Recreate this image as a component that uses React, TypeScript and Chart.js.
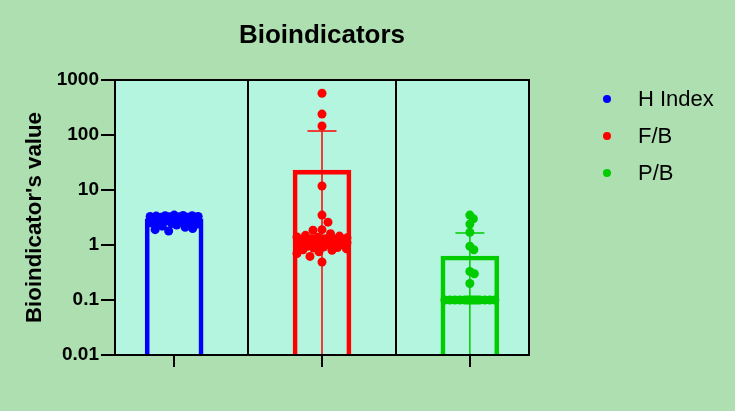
import React, { useEffect, useRef } from 'react';
import { Chart, registerables } from 'chart.js';

Chart.register(...registerables);

// ---- data ----
const categories = ['H Index', 'F/B', 'P/B'];
const seriesColors = ['#0000FF', '#FF0000', '#00CC00'];
const means = [3.0, 23, 0.63];
const sds = [0.38, 95, 1.02];
const yTickValues = [0.01, 0.1, 1, 10, 100, 1000];

const hIndexValues = [
  3.5, 3.45, 3.4, 3.4, 3.35, 3.3, 3.3, 3.25, 3.25, 3.2, 3.2, 3.2, 3.15, 3.15, 3.1,
  3.1, 3.1, 3.05, 3.05, 3.0, 3.0, 3.0, 2.95, 2.95, 2.9, 2.9, 2.85, 2.85, 2.8, 2.8,
  2.75, 2.7, 2.7, 2.65, 2.6, 2.55, 2.5, 2.45, 2.4, 2.3, 2.2, 2.1, 2.0, 1.9, 1.8,
];
const fbValues = [
  573, 240, 146, 11.8, 3.5, 2.6, 1.9, 1.85, 1.6, 1.5, 1.45, 1.4, 1.38, 1.35, 1.3,
  1.3, 1.28, 1.25, 1.22, 1.2, 1.2, 1.18, 1.15, 1.15, 1.12, 1.1, 1.1, 1.08, 1.05, 1.05,
  1.02, 1.0, 1.0, 0.98, 0.95, 0.92, 0.9, 0.88, 0.85, 0.82, 0.8, 0.75, 0.7, 0.62, 0.49,
];
const pbValues = [
  3.5, 3.0, 2.4, 1.7, 0.95, 0.82, 0.33, 0.3, 0.2,
  0.1, 0.1, 0.1, 0.1, 0.1, 0.1, 0.1, 0.1, 0.1, 0.1, 0.1, 0.1, 0.1, 0.1,
];
const pointSeries = [hIndexValues, fbValues, pbValues];

const chartTitle = 'Bioindicators';
const yTitle = "Bioindicator's value";

// ---- styles ----
const PAGE_BG = '#ADDFB0';
const PLOT_BG = '#B3F5DE';
const FONT = '"Liberation Sans", Arial, Helvetica, sans-serif';
const POINT_R = 4.5;

function swarmOffsets(py: number[], diameter: number, maxHalf: number): number[] {
  const order = py.map((_, i) => i).sort((a, b) => py[a] - py[b]);
  const placed: { x: number; y: number }[] = [];
  const out = new Array(py.length).fill(0);
  const cands: number[] = [0];
  for (let s = 0.5; s <= maxHalf + 1e-9; s += 0.5) cands.push(s, -s);
  for (const i of order) {
    const y = py[i];
    let best = 0;
    let bestScore = -1;
    for (const c of cands) {
      let minD = Infinity;
      for (const p of placed) {
        const d = Math.hypot(c - p.x, y - p.y);
        if (d < minD) minD = d;
      }
      if (minD >= diameter) {
        best = c;
        break;
      }
      if (minD > bestScore) {
        bestScore = minD;
        best = c;
      }
    }
    placed.push({ x: best, y });
    out[i] = best;
  }
  return out;
}

const decorPlugin = {
  id: 'decor',
  beforeDraw(chart: any) {
    const { ctx, chartArea: a, width, height } = chart;
    ctx.save();
    ctx.fillStyle = PAGE_BG;
    ctx.fillRect(0, 0, width, height);
    ctx.fillStyle = PLOT_BG;
    ctx.fillRect(a.left, a.top, a.right - a.left, a.bottom - a.top);
    ctx.restore();
  },
  afterDatasetDraw(chart: any, args: any) {
    if (args.index !== 0) return;
    const { ctx, chartArea: a, scales } = chart;
    const x = scales.x;
    const y = scales.y;
    ctx.save();
    ctx.lineWidth = 1.5;
    means.forEach((m, i) => {
      const px = x.getPixelForValue(i);
      const top = y.getPixelForValue(m + sds[i]);
      const low = m - sds[i];
      const bottom = low > 0.01 ? y.getPixelForValue(low) : a.bottom;
      ctx.strokeStyle = seriesColors[i];
      ctx.beginPath();
      ctx.moveTo(px, top);
      ctx.lineTo(px, bottom);
      ctx.moveTo(px - 14.5, top);
      ctx.lineTo(px + 14.5, top);
      if (low > 0.01) {
        ctx.moveTo(px - 14.5, bottom);
        ctx.lineTo(px + 14.5, bottom);
      }
      ctx.stroke();
    });
    ctx.restore();
  },
  afterDraw(chart: any) {
    const { ctx, chartArea: a, scales } = chart;
    const x = scales.x;
    ctx.save();
    // frame and dividers
    ctx.strokeStyle = '#000';
    ctx.lineWidth = 2;
    ctx.strokeRect(a.left, a.top, a.right - a.left, a.bottom - a.top);
    [0.5, 1.5].forEach((v) => {
      const px = Math.round(x.getPixelForValue(v));
      ctx.beginPath();
      ctx.moveTo(px, a.top);
      ctx.lineTo(px, a.bottom);
      ctx.stroke();
    });
    // title
    ctx.fillStyle = '#000';
    ctx.font = `bold 26px ${FONT}`;
    ctx.textAlign = 'center';
    ctx.textBaseline = 'alphabetic';
    ctx.fillText(chartTitle, (a.left + a.right) / 2, 43);
    // legend
    ctx.font = `22px ${FONT}`;
    ctx.textAlign = 'left';
    ctx.textBaseline = 'middle';
    chart.data.datasets.slice(1).forEach((ds: any, i: number) => {
      const cy = a.top + 19 + i * 37;
      const cx = a.right + 78;
      ctx.fillStyle = ds.backgroundColor;
      ctx.beginPath();
      ctx.arc(cx, cy, 4, 0, Math.PI * 2);
      ctx.fill();
      ctx.fillStyle = '#000';
      ctx.fillText(ds.label, a.right + 109, cy + 0.5);
    });
    ctx.restore();
  },
};

export default function App() {
  const ref = useRef<HTMLCanvasElement | null>(null);

  useEffect(() => {
    document.body.style.margin = '0';
    const canvas = ref.current;
    if (!canvas) return;

    const datasets: any[] = [
      {
        type: 'bar',
        label: 'Mean',
        data: means.map((m, i) => ({ x: i, y: m })),
        borderColor: seriesColors,
        backgroundColor: 'rgba(0,0,0,0)',
        borderWidth: 4,
        borderSkipped: 'bottom',
        barThickness: 58,
        order: 10,
      },
      ...pointSeries.map((vals, i) => ({
        type: 'scatter',
        label: categories[i],
        data: vals.map((v) => ({ x: i, y: v })),
        backgroundColor: seriesColors[i],
        borderColor: seriesColors[i],
        borderWidth: 0,
        pointRadius: POINT_R,
        pointHoverRadius: POINT_R,
        order: 3 - i,
      })),
    ];

    const chart = new Chart(canvas, {
      type: 'bar',
      data: { datasets },
      plugins: [decorPlugin],
      options: {
        animation: false,
        responsive: false,
        devicePixelRatio: 1,
        events: [],
        layout: { padding: { top: 80, right: 206, bottom: 0, left: 0 } },
        plugins: {
          legend: { display: false },
          title: { display: false },
          tooltip: { enabled: false },
        },
        scales: {
          x: {
            type: 'linear',
            min: -0.4,
            max: 2.4,
            offset: false,
            afterBuildTicks: (scale: any) => {
              scale.ticks = [0, 1, 2].map((v) => ({ value: v }));
            },
            afterFit: (scale: any) => {
              scale.height = 56;
            },
            ticks: { display: true, callback: () => '' },
            grid: {
              offset: false,
              drawOnChartArea: false,
              drawTicks: true,
              tickLength: 12,
              color: '#000',
              lineWidth: 2,
            },
            border: { display: false },
          },
          y: {
            type: 'logarithmic',
            min: 0.01,
            max: 1000,
            afterBuildTicks: (scale: any) => {
              scale.ticks = yTickValues.map((v) => ({ value: v }));
            },
            afterFit: (scale: any) => {
              scale.width = 115;
            },
            ticks: {
              callback: (v: any) => String(Number(v)),
              color: '#000',
              font: { family: FONT, size: 19, weight: 'bold' },
              padding: 2,
            },
            grid: {
              drawOnChartArea: false,
              drawTicks: true,
              tickLength: 14,
              color: '#000',
              lineWidth: 2,
            },
            border: { display: false },
            title: {
              display: true,
              text: yTitle,
              color: '#000',
              font: { family: FONT, size: 22.3, weight: 'bold' },
              padding: { top: 21, bottom: 0 },
            },
          },
        },
      } as any,
    });

    // beeswarm layout through the chart's own scales
    const xs: any = chart.scales.x;
    const ys: any = chart.scales.y;
    const halfWidths = [24, 25, 25];
    const spacing = [9, 9, 5];
    pointSeries.forEach((vals, ci) => {
      const cx = xs.getPixelForValue(ci);
      const py = vals.map((v) => ys.getPixelForValue(v));
      const offs = swarmOffsets(py, spacing[ci], halfWidths[ci]);
      (chart.data.datasets[ci + 1] as any).data = vals.map((v, k) => ({
        x: xs.getValueForPixel(cx + offs[k]),
        y: v,
      }));
    });
    chart.update();

    return () => chart.destroy();
  }, []);

  return (
    <div style={{ width: 735, height: 411 }}>
      <canvas ref={ref} width={735} height={411} style={{ display: 'block' }} />
    </div>
  );
}
